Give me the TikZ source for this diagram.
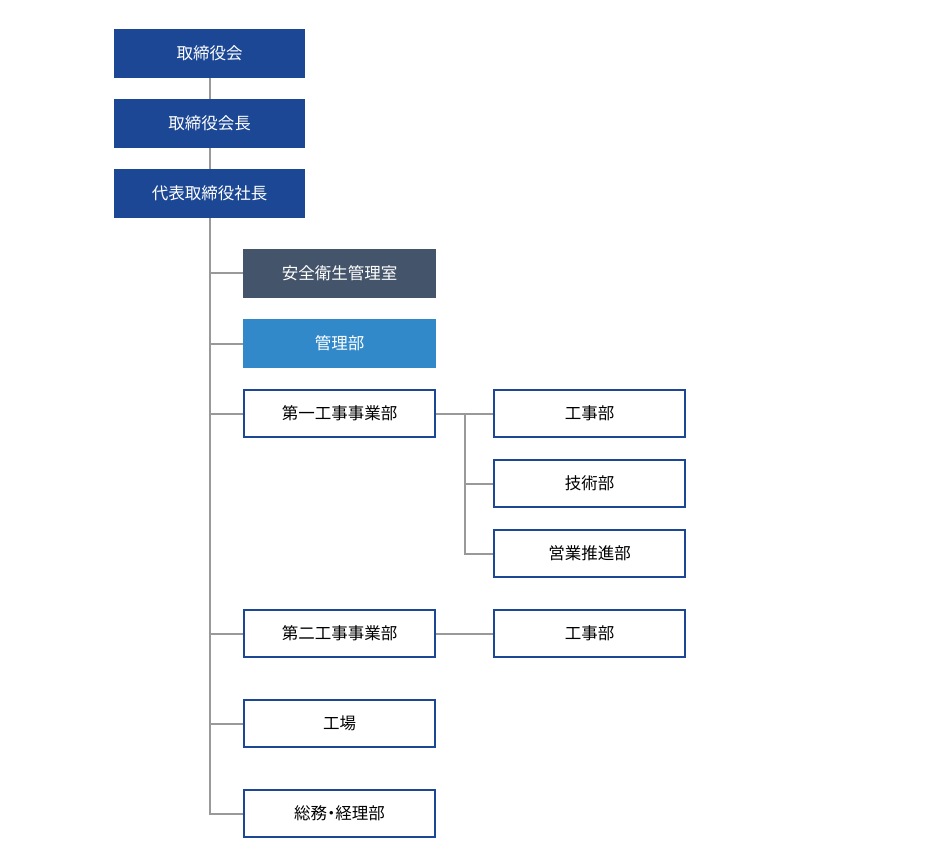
\documentclass[tikz,border=0pt]{standalone}
\usepackage{fontspec}
\setmainfont{Noto Sans CJK JP}
\usepackage{tikz}
\usetikzlibrary{calc}
\definecolor{boardblue}{HTML}{1B4794}
\definecolor{safegray}{HTML}{44546A}
\definecolor{adminblue}{HTML}{3189CA}
\definecolor{linegray}{HTML}{999999}
\tikzset{
  topbox/.style={fill=boardblue,text=white,minimum width=191pt,minimum height=49pt,inner sep=0pt},
  deptbox/.style={draw=boardblue,line width=2pt,fill=white,text=black,minimum width=191pt,minimum height=47pt,inner sep=0pt},
  link/.style={draw=linegray,line width=2pt}
}
\begin{document}
\begin{tikzpicture}[x=1pt,y=-1pt,font=\fontsize{16.5}{19}\selectfont]
    \useasboundingbox (0,0) rectangle (945,850);

    % top of the chart
    \begin{scope}
      \node[topbox] (board) at (209.5,53.5) {取締役会};
      \node[topbox] (chair) at (209.5,123.5) {取締役会長};
      \node[topbox] (pres) at (209.5,193.5) {代表取締役社長};
      \coordinate (trunk) at (209.5,813.5);
    \end{scope}

    % departments under the president
    \begin{scope}
      \node[topbox,fill=safegray,minimum width=193pt] (safety) at (339.5,273.5) {安全衛生管理室};
      \node[topbox,fill=adminblue,minimum width=193pt] (admin) at (339.5,343.5) {管理部};
      \node[deptbox] (div1) at (339.5,413.5) {第一工事事業部};
      \node[deptbox] (div2) at (339.5,633.5) {第二工事事業部};
      \node[deptbox] (plant) at (339.5,723.5) {工場};
      \node[deptbox,font=\fontsize{16.5}{19}\selectfont\addfontfeature{RawFeature=+palt}] (general) at (339.5,813.5) {総務・経理部};
    \end{scope}

    % sections of the divisions
    \begin{scope}
      \node[deptbox] (cons1) at (589.5,413.5) {工事部};
      \node[deptbox] (tech) at (589.5,483.5) {技術部};
      \node[deptbox] (sales) at (589.5,553.5) {営業推進部};
      \node[deptbox] (cons2) at (589.5,633.5) {工事部};
      \coordinate (fork) at (464.5,413.5);
    \end{scope}

    \begin{scope}
      \path[link] (board) -- (chair)
      (chair) -- (pres)
      (pres.south) -- (trunk) -- (general.west);
      \foreach \d in {safety,admin,div1,div2,plant}
        \path[link] (trunk |- \d.west) -- (\d.west);
      \path[link] (div1.east) -- (cons1.west)
      (fork) -- (fork |- sales.west) -- (sales.west)
      (fork |- tech.west) -- (tech.west)
      (div2.east) -- (cons2.west);
    \end{scope}
  \end{tikzpicture}
\end{document}
